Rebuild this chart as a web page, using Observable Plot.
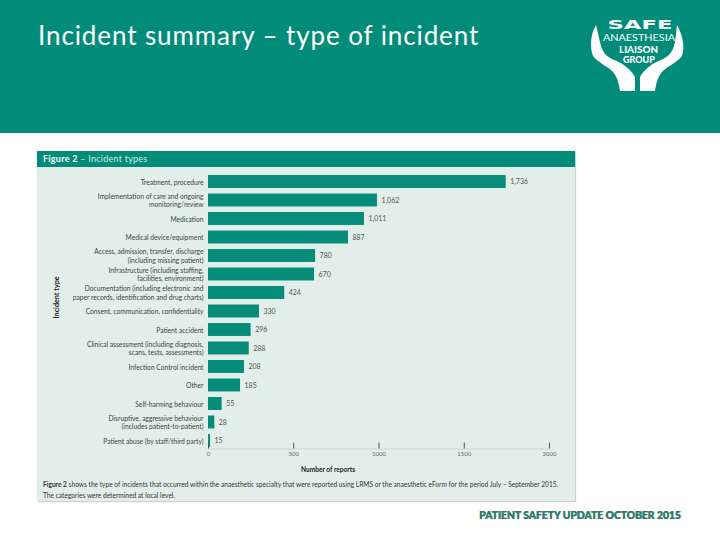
<!DOCTYPE html>
<html><head><meta charset="utf-8">
<script src="https://cdn.jsdelivr.net/npm/d3@7"></script>
<script src="https://cdn.jsdelivr.net/npm/@observablehq/plot@0.6"></script>
<style>
html,body{margin:0;padding:0;background:#fff;overflow:hidden}
#page{position:relative;width:720px;height:540px;font-family:Lato,"Open Sans",sans-serif}
#page>*{position:absolute}
#top{left:0;top:0;width:720px;height:133px;background:#008c79}
#title{left:38px;top:17px;color:#fff;font:26px/36px Lato,sans-serif;letter-spacing:.9px;white-space:nowrap}
#logo{left:585px;top:10px}
#panel{left:37px;top:151px;width:538px;height:350px;background:#e2eeea;box-shadow:1px 1px 1px #c9d2cf}
#fighead{left:37px;top:151px;width:538px;height:16px;background:#008c79;color:#d4ece6;font:9px/16px Lato,sans-serif;text-indent:6px;letter-spacing:.25px}
#fighead b{color:#fff}
#chart{left:0;top:0}
#chart svg{display:block;background:transparent}
#caption{left:43px;top:479px;width:525px;font:6.6px/10.5px Lato,sans-serif;color:#333;white-space:nowrap}
.foot{left:479px;top:508px;color:#2f7c6e;font:900 10.3px/14px Lato,sans-serif;white-space:nowrap;text-shadow:.6px 0 0 #2f7c6e}
</style></head>
<body>
<div id="page">
  <div id="top"></div>
  <div id="title">Incident summary – type of incident</div>
  <svg id="logo" width="100" height="85" viewBox="585 10 100 85" fill="#fff" font-family="Lato,sans-serif" text-anchor="middle">
    <g id="hand">
      <path d="M596 25C590 35 590 48 593 56C598 63 608 66 613 72C618 78 619 85 620 91L635 91L635 77C630 68 622 63 612 59C606 56 603 52 601 46C599 39 598 32 596 25Z"/>
      <path transform="translate(1275 0) scale(-1 1)" d="M598 25C592 35 590 48 593 56C598 63 608 66 613 72C618 78 619 85 620 91L635 91L635 77C630 68 622 63 612 59C606 56 603 52 601 46C599 39 599 32 598 25Z"/>
    </g>
    <text x="640" y="29" font-size="12.5" font-weight="900" font-family="'DejaVu Sans',sans-serif" textLength="65" lengthAdjust="spacingAndGlyphs">SAFE</text>
    <text x="639" y="41" font-size="9.5" textLength="72" lengthAdjust="spacingAndGlyphs">ANAESTHESIA</text>
    <text x="638.5" y="53" font-size="9" font-weight="900" textLength="39" lengthAdjust="spacingAndGlyphs">LIAISON</text>
    <text x="639" y="63" font-size="9" font-weight="900" textLength="32" lengthAdjust="spacingAndGlyphs">GROUP</text>
  </svg>
  <div id="panel"></div>
  <div id="fighead"><b>Figure 2</b> – Incident types</div>
  <div id="chart"></div>
  <div id="caption"><b>Figure 2</b> shows the type of incidents that occurred within the anaesthetic specialty that were reported using LRMS or the anaesthetic eForm for the period July – September 2015.<br>The categories were determined at local level.</div>
  <div class="foot">PATIENT SAFETY UPDATE OCTOBER 2015</div>
</div>
<script>
const categories = [
  "Treatment, procedure",
  "Implementation of care and ongoing\nmonitoring/review",
  "Medication",
  "Medical device/equipment",
  "Access, admission, transfer, discharge\n(including missing patient)",
  "Infrastructure (including staffing,\nfacilities, environment)",
  "Documentation (including electronic and\npaper records, identification and drug charts)",
  "Consent, communication, confidentiality",
  "Patient accident",
  "Clinical assessment (including diagnosis,\nscans, tests, assessments)",
  "Infection Control incident",
  "Other",
  "Self-harming behaviour",
  "Disruptive, aggressive behaviour\n(includes patient-to-patient)",
  "Patient abuse (by staff/third party)"
];
// Bar lengths as drawn in the picture, read against the axis
const barLengths = [1746, 991, 915, 821, 628, 622, 447, 299, 250, 239, 211, 188, 80, 37, 12];
// Value labels as printed beside the bars
const valueLabels = ["1,736","1,062","1,011","887","780","670","424","330","296","288","208","185","55","28","15"];
const xTicks = [0, 500, 1000, 1500, 2000];

const rows = categories.map((category, i) => ({category, length: barLengths[i], label: valueLabels[i]}));
const ink = "#3c4442";
const plot = Plot.plot({
  width: 720, height: 540,
  marginLeft: 208, marginRight: 171, marginTop: 169.475, marginBottom: 87.5,
  style: {fontFamily: "Lato, sans-serif", background: "transparent", overflow: "visible"},
  x: {domain: [0, 2000]},
  y: {domain: categories, padding: 0.3, align: 0.5, round: false},
  marks: [
    Plot.frame({anchor: "bottom", stroke: "#c8d4d0", dy: -4}),
    Plot.barX(rows, {x: "length", y: "category", fill: "#068c78"}),
    Plot.text(rows, {x: "length", y: "category", text: "label", dx: 4, textAnchor: "start", fontSize: 7, fill: "#555"}),
    Plot.axisX({ticks: xTicks, tickSize: -6, tickPadding: 9, dy: -4, tickFormat: d => String(d), fontSize: 6, stroke: "#555", fill: "#666", label: null}),
    Plot.axisY({tickSize: 0, tickPadding: 5, fontSize: 6.7, lineHeight: 1.25, fill: ink, label: null}),
    Plot.text(["Number of reports"], {frameAnchor: "bottom", dx: -51, dy: 19, text: d => d, fontSize: 6.6, fontWeight: "bold", fill: "#222"}),
    Plot.text(["Incident type"], {frameAnchor: "left", dx: -152, dy: 7, rotate: -90, text: d => d, fontSize: 7.2, fontWeight: "bold", fill: "#222"})
  ]
});
document.getElementById("chart").appendChild(plot);
</script>
</body></html>
